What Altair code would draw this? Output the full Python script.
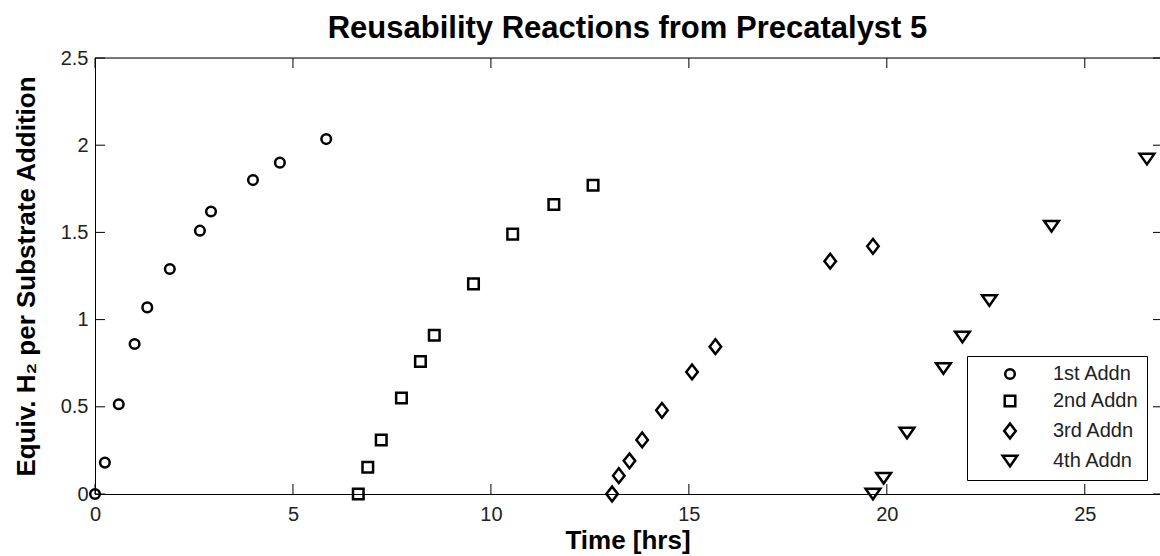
import altair as alt
import pandas as pd

# ---- data ----
series_names = ["1st Addn", "2nd Addn", "3rd Addn", "4th Addn"]

time_1st = [0.0, 0.25, 0.60, 1.00, 1.32, 1.89, 2.65, 2.93, 3.99, 4.67, 5.84]
h2_1st = [0.0, 0.18, 0.515, 0.86, 1.07, 1.29, 1.51, 1.62, 1.80, 1.90, 2.035]

time_2nd = [6.65, 6.89, 7.23, 7.74, 8.22, 8.57, 9.56, 10.55, 11.59, 12.58]
h2_2nd = [0.0, 0.153, 0.31, 0.55, 0.76, 0.91, 1.205, 1.49, 1.66, 1.77]

time_3rd = [13.06, 13.23, 13.50, 13.82, 14.32, 15.08, 15.67, 18.57, 19.65]
h2_3rd = [0.0, 0.105, 0.19, 0.31, 0.48, 0.70, 0.845, 1.335, 1.42]

time_4th = [19.65, 19.92, 20.51, 21.43, 21.91, 22.59, 24.16, 26.57]
h2_4th = [0.0, 0.09, 0.35, 0.72, 0.90, 1.11, 1.535, 1.92]

x_ticks = [0, 5, 10, 15, 20, 25]
y_ticks = [0, 0.5, 1, 1.5, 2, 2.5]
x_max = 26.9
y_max = 2.5

# ---- build table ----
rows = []
for name, ts, hs in zip(series_names,
                        [time_1st, time_2nd, time_3rd, time_4th],
                        [h2_1st, h2_2nd, h2_3rd, h2_4th]):
    for t, h in zip(ts, hs):
        rows.append({"time": t, "h2": h, "addn": name})
df = pd.DataFrame(rows)
df_xt = pd.DataFrame({"time": x_ticks})
df_yt = pd.DataFrame({"h2": y_ticks})
df_top = pd.DataFrame({"time": [0.0], "time_end": [x_max], "h2": [y_max]})

W, H = 1065, 436
FONT = "Liberation Sans"
SYM = 256  # marker size (custom paths are scaled by sqrt(size)/2)

circle_path = ("M0.6,0 C0.6,0.331 0.331,0.6 0,0.6 C-0.331,0.6 -0.6,0.331 -0.6,0 "
               "C-0.6,-0.331 -0.331,-0.6 0,-0.6 C0.331,-0.6 0.6,-0.331 0.6,0 Z")
square_path = "M-0.66,-0.66 L0.66,-0.66 L0.66,0.66 L-0.66,0.66 Z"
diamond_path = "M0,-0.92 L0.72,0 L0,0.92 L-0.72,0 Z"
tri_down_path = "M-0.92,-0.66 L0.92,-0.66 L0,0.66 Z"

xscale = alt.Scale(domain=[0, x_max], nice=False, zero=False)
yscale = alt.Scale(domain=[0, y_max], nice=False, zero=False)

x_axis = alt.Axis(values=x_ticks, format="d", title="Time [hrs]",
                  tickSize=0, labelPadding=10, labelFlush=False,
                  labelFontSize=20, labelFont=FONT, labelColor="#222",
                  titleFontSize=26, titleFont=FONT, titleFontWeight="bold",
                  titleColor="black", titlePadding=3,
                  domainColor="black", domainWidth=1, grid=False)
y_axis = alt.Axis(values=y_ticks, format=".1~f",
                  title="Equiv. H₂ per Substrate Addition",
                  tickSize=0, labelPadding=7, labelFlush=False,
                  labelFontSize=20, labelFont=FONT, labelColor="#222",
                  titleFontSize=26, titleFont=FONT, titleFontWeight="bold",
                  titleColor="black", titlePadding=21,
                  domainColor="black", domainWidth=1, grid=False)

X = alt.X("time:Q", scale=xscale, axis=x_axis)
Y = alt.Y("h2:Q", scale=yscale, axis=y_axis)

points = alt.Chart(df).mark_point(
    filled=False, stroke="black", strokeWidth=2.5, size=SYM, opacity=1
).encode(
    x=X, y=Y,
    shape=alt.Shape("addn:N",
                    scale=alt.Scale(domain=series_names,
                                    range=[circle_path, square_path, diamond_path, tri_down_path]),
                    legend=alt.Legend(orient="none", legendX=872, legendY=298, title=None,
                                      fillColor="white", strokeColor="black",
                                      padding=8, rowPadding=6, symbolSize=SYM,
                                      symbolStrokeWidth=2.5, symbolStrokeColor="black",
                                      symbolFillColor="transparent",
                                      symbolOffset=25, labelOffset=33,
                                      labelFontSize=20, labelFont=FONT, labelColor="#222")),
)

tick_style = dict(color="black", strokeWidth=1)
bottom_ticks = alt.Chart(df_xt).mark_rule(**tick_style).encode(
    x=X, y=alt.value(H), y2=alt.value(H - 10))
top_ticks = alt.Chart(df_xt).mark_rule(**tick_style).encode(
    x=X, y=alt.value(0), y2=alt.value(10))
left_ticks = alt.Chart(df_yt).mark_rule(**tick_style).encode(
    y=Y, x=alt.value(0), x2=alt.value(10))
right_ticks = alt.Chart(df_yt).mark_rule(**tick_style).encode(
    y=Y, x=alt.value(W), x2=alt.value(W - 7))
top_line = alt.Chart(df_top).mark_rule(**tick_style).encode(
    x=X, x2="time_end:Q", y=Y)

chart = alt.layer(
    points, top_line, bottom_ticks, top_ticks, left_ticks, right_ticks
).properties(
    width=W, height=H,
    title=alt.TitleParams("Reusability Reactions from Precatalyst 5", fontSize=31,
                          font=FONT, fontWeight="bold", color="black",
                          anchor="middle", offset=3),
    autosize=alt.AutoSizeParams(type="none"),
    padding={"left": 95, "top": 58, "right": 0, "bottom": 62},
).configure_view(stroke=None).configure(background="white")

chart.save("out.html", embed_options={"renderer": "svg", "actions": False})
